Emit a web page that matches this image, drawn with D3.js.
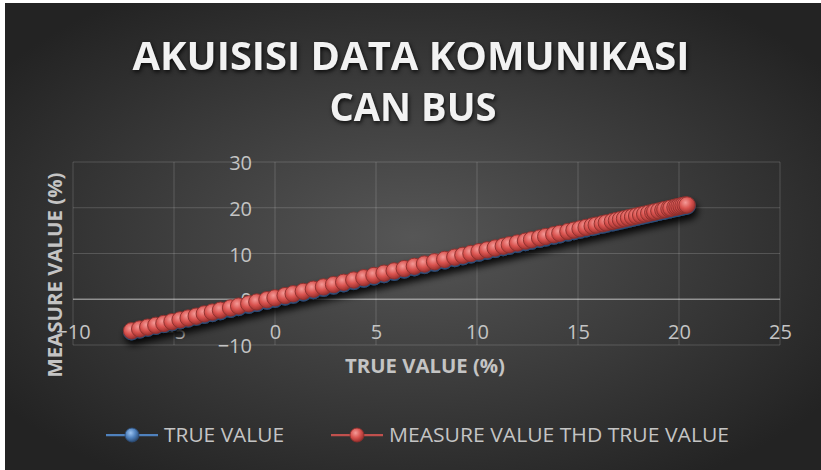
<!DOCTYPE html>
<html>
<head>
<meta charset="utf-8">
<script src="https://cdn.jsdelivr.net/npm/d3@7"></script>
<style>
  html, body { margin: 0; padding: 0; background: #fff; }
  svg { display: block; }
</style>
</head>
<body>
<div id="chart"></div>
<script>
// chart data
const title = ["AKUISISI DATA KOMUNIKASI", "CAN BUS"];
const xTicks = [-10, -5, 0, 5, 10, 15, 20, 25];
const yTicks = [-10, 0, 10, 20, 30];
const seriesNames = ["TRUE VALUE", "MEASURE VALUE THD TRUE VALUE"];

const trueValue = [-7.1, -6.7, -6.3, -5.9, -5.5, -5.1, -4.7, -4.3, -3.9, -3.5, -3.1, -2.7,
  -2.2, -1.8, -1.3, -0.9, -0.4, 0.0, 0.5, 0.9, 1.4, 1.9, 2.4, 2.9, 3.4, 3.9, 4.4, 4.9,
  5.4, 5.9, 6.4, 6.9, 7.4, 7.9, 8.4, 8.9, 9.3, 9.7, 10.1, 10.5, 10.9, 11.3, 11.6, 12.0,
  12.4, 12.7, 13.1, 13.4, 13.8, 14.1, 14.5, 14.8, 15.1, 15.4, 15.7, 15.9, 16.2, 16.4,
  16.7, 16.9, 17.1, 17.3, 17.5, 17.7, 17.9, 18.1, 18.3, 18.5, 18.7, 18.8, 19.0, 19.2,
  19.3, 19.5, 19.6, 19.8, 19.9, 20.0, 20.1, 20.2, 20.3, 20.4];

const measureValue = [-6.9, -6.5, -6.1, -5.7, -5.3, -4.9, -4.5, -4.1, -3.7, -3.2, -2.8, -2.4,
  -1.9, -1.5, -1.0, -0.6, -0.1, 0.3, 0.8, 1.2, 1.7, 2.2, 2.7, 3.2, 3.7, 4.2, 4.7, 5.2,
  5.7, 6.2, 6.7, 7.2, 7.7, 8.2, 8.7, 9.2, 9.6, 10.0, 10.4, 10.8, 11.2, 11.6, 11.9, 12.3,
  12.7, 13.0, 13.4, 13.7, 14.1, 14.4, 14.8, 15.1, 15.4, 15.7, 16.0, 16.2, 16.5, 16.7,
  17.0, 17.2, 17.4, 17.6, 17.8, 18.0, 18.2, 18.4, 18.6, 18.8, 19.0, 19.1, 19.3, 19.5,
  19.6, 19.8, 19.9, 20.1, 20.2, 20.3, 20.4, 20.5, 20.6, 20.6];

(function () {
  const width = 821, height = 470;
  const plot = { left: 73, right: 780, top: 162, bottom: 345 };
  const font = "'Open Sans', 'DejaVu Sans', sans-serif";
  const textCol = "#c4c4c4";

  const svg = d3.select("#chart").append("svg")
    .attr("width", width)
    .attr("height", height);

  const defs = svg.append("defs");

  const bg = defs.append("radialGradient").attr("id", "bgGrad")
    .attr("cx", "50%").attr("cy", "50%").attr("r", "62%");
  bg.append("stop").attr("offset", "0%").attr("stop-color", "#565656");
  bg.append("stop").attr("offset", "100%").attr("stop-color", "#232323");

  function sphere(id, hi, mid, lo) {
    const g = defs.append("radialGradient").attr("id", id)
      .attr("cx", "40%").attr("cy", "35%").attr("r", "65%");
    g.append("stop").attr("offset", "0%").attr("stop-color", hi);
    g.append("stop").attr("offset", "55%").attr("stop-color", mid);
    g.append("stop").attr("offset", "100%").attr("stop-color", lo);
  }
  sphere("blueBall", "#9cc3f0", "#4f81bd", "#2c4d77");
  sphere("redBall", "#f49a97", "#d9534f", "#9b302d");

  const shadow = defs.append("filter").attr("id", "shadow")
    .attr("x", "-20%").attr("y", "-20%").attr("width", "140%").attr("height", "160%");
  shadow.append("feDropShadow")
    .attr("dx", 2).attr("dy", 5).attr("stdDeviation", 3.5)
    .attr("flood-color", "#000").attr("flood-opacity", 0.9);

  svg.append("rect").attr("width", width).attr("height", height).attr("fill", "#fff");
  svg.append("rect")
    .attr("x", 5).attr("y", 3)
    .attr("width", width - 5).attr("height", height - 3)
    .attr("fill", "url(#bgGrad)");

  // title
  svg.append("text")
    .attr("x", 411).attr("y", 70)
    .attr("text-anchor", "middle")
    .attr("font-family", font).attr("font-weight", 700).attr("font-size", 40)
    .attr("textLength", 557).attr("lengthAdjust", "spacingAndGlyphs")
    .attr("fill", "#f2f2f2")
    .style("filter", "drop-shadow(1px 2px 2px rgba(0,0,0,0.8))")
    .text(title[0]);
  svg.append("text")
    .attr("x", 413).attr("y", 121)
    .attr("text-anchor", "middle")
    .attr("font-family", font).attr("font-weight", 700).attr("font-size", 40)
    .attr("textLength", 167).attr("lengthAdjust", "spacingAndGlyphs")
    .attr("fill", "#f2f2f2")
    .style("filter", "drop-shadow(1px 2px 2px rgba(0,0,0,0.8))")
    .text(title[1]);

  const x = d3.scaleLinear().domain([-10, 25]).range([plot.left, plot.right]);
  const y = d3.scaleLinear().domain([-10, 30]).range([plot.bottom, plot.top]);

  // gridlines
  const grid = svg.append("g");
  grid.selectAll(".vg").data(xTicks).enter().append("line")
    .attr("x1", d => x(d)).attr("x2", d => x(d))
    .attr("y1", plot.top).attr("y2", plot.bottom)
    .attr("stroke", "rgba(255,255,255,0.17)").attr("stroke-width", 1);
  grid.selectAll(".hg").data(yTicks).enter().append("line")
    .attr("x1", plot.left).attr("x2", plot.right)
    .attr("y1", d => y(d)).attr("y2", d => y(d))
    .attr("stroke", "rgba(255,255,255,0.17)").attr("stroke-width", 1);

  // axis line at y = 0
  svg.append("line")
    .attr("x1", plot.left).attr("x2", plot.right)
    .attr("y1", y(0)).attr("y2", y(0))
    .attr("stroke", "rgba(255,255,255,0.38)").attr("stroke-width", 1.5);

  // tick labels
  const xAxis = d3.axisBottom(x).tickValues(xTicks).tickSize(0).tickPadding(0);
  const xg = svg.append("g").attr("transform", `translate(0,${plot.bottom - 6})`).call(xAxis);
  xg.select(".domain").remove();
  xg.selectAll("text")
    .attr("y", 0).attr("dy", "0")
    .attr("font-family", font).attr("font-size", 20)
    .attr("fill", textCol);

  const yAxis = d3.axisLeft(y).tickValues(yTicks).tickSize(0).tickPadding(0);
  const yg = svg.append("g").attr("transform", `translate(${x(0) - 23},0)`).call(yAxis);
  yg.select(".domain").remove();
  yg.selectAll("text")
    .attr("x", 0).attr("dy", "0.38em")
    .attr("font-family", font).attr("font-size", 20)
    .attr("fill", textCol);

  // axis titles
  svg.append("text")
    .attr("x", 425).attr("y", 373)
    .attr("text-anchor", "middle")
    .attr("font-family", font).attr("font-weight", 700).attr("font-size", 20)
    .attr("textLength", 160).attr("lengthAdjust", "spacingAndGlyphs")
    .attr("fill", textCol)
    .text("TRUE VALUE (%)");
  svg.append("text")
    .attr("transform", "translate(62,275) rotate(-90)")
    .attr("text-anchor", "middle")
    .attr("font-family", font).attr("font-weight", 700).attr("font-size", 20)
    .attr("textLength", 205).attr("lengthAdjust", "spacingAndGlyphs")
    .attr("fill", textCol)
    .text("MEASURE VALUE (%)");

  // series
  const s1 = trueValue.map((v, i) => ({ x: trueValue[i], y: v }));
  const s2 = trueValue.map((v, i) => ({ x: v, y: measureValue[i] }));
  const line = d3.line().x(d => x(d.x)).y(d => y(d.y));

  const series = svg.append("g").attr("filter", "url(#shadow)");

  function drawSeries(data, col, ball, edge) {
    const g = series.append("g");
    g.append("path").datum(data)
      .attr("fill", "none").attr("stroke", col).attr("stroke-width", 2.25)
      .attr("d", line);
    g.selectAll("circle").data(data).enter().append("circle")
      .attr("cx", d => x(d.x)).attr("cy", d => y(d.y))
      .attr("r", 8.2)
      .attr("fill", `url(#${ball})`)
      .attr("stroke", edge).attr("stroke-width", 0.9);
  }
  drawSeries(s1, "#4f81bd", "blueBall", "#2c4d77");
  drawSeries(s2, "#c0504d", "redBall", "#8c2f2c");

  // legend
  const legend = [
    { name: seriesNames[0], x0: 106, col: "#4f81bd", ball: "blueBall", edge: "#2c4d77", tw: 120 },
    { name: seriesNames[1], x0: 331, col: "#c0504d", ball: "redBall", edge: "#8c2f2c", tw: 340 }
  ];
  const ly = 435;
  const lg = svg.append("g");
  legend.forEach(l => {
    lg.append("line")
      .attr("x1", l.x0).attr("x2", l.x0 + 52)
      .attr("y1", ly).attr("y2", ly)
      .attr("stroke", l.col).attr("stroke-width", 2.25);
    lg.append("circle")
      .attr("cx", l.x0 + 26).attr("cy", ly).attr("r", 7)
      .attr("fill", `url(#${l.ball})`)
      .attr("stroke", l.edge).attr("stroke-width", 0.8);
    lg.append("text")
      .attr("x", l.x0 + 58).attr("y", ly).attr("dy", "0.36em")
      .attr("font-family", font).attr("font-size", 20)
      .attr("textLength", l.tw).attr("lengthAdjust", "spacingAndGlyphs")
      .attr("fill", textCol)
      .text(l.name);
  });
})();
</script>
</body>
</html>
